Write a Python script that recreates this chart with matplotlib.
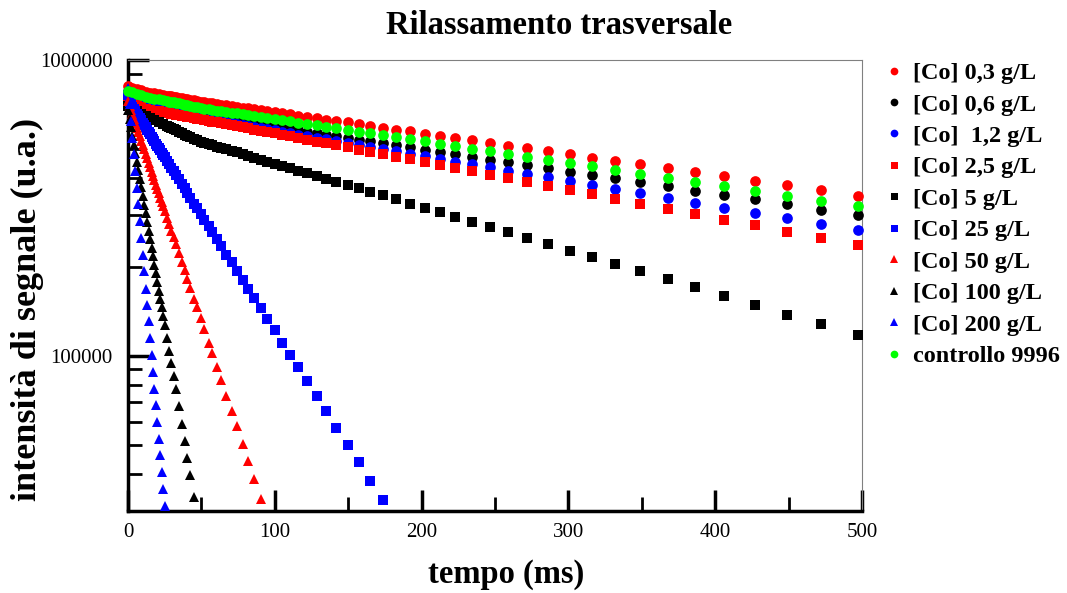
import numpy as np
import matplotlib
matplotlib.use("Agg")
import matplotlib.pyplot as plt
from matplotlib.ticker import FixedLocator, NullFormatter, LogLocator

plt.rcParams['font.family'] = ['Liberation Serif', 'DejaVu Serif']

# time points (ms)
t_fast = [0, 1, 2, 3, 4, 5, 6, 7, 8, 9, 10, 11, 12, 13, 14, 15, 16, 17, 18, 19, 20,
          21, 22, 23, 24, 25, 26.5, 28, 29.5, 31, 32.5, 34.5, 36.5, 38.5, 40.5, 42.5,
          45, 47, 49.5, 52, 55, 57.5, 60.5, 63.5, 67, 70.5, 74, 78, 82, 86, 90.5,
          95, 100, 105, 110.5, 116, 122, 128.5, 135, 142, 149.5, 157, 165, 173.5]
t_slow = [0, 3, 6, 9, 12, 15, 18, 21, 24,
          26.5, 28, 29.5, 31, 32.5, 34.5, 36.5, 38.5, 40.5, 42.5,
          45, 47, 49.5, 52, 55, 57.5, 60.5, 63.5, 67, 70.5,
          74, 78, 82, 86, 90.5, 95, 100, 105, 110.5, 116,
          122, 128.5, 135, 142, 149.5, 157, 165, 173.5, 182.5, 192,
          202, 212.5, 223, 234.5, 246.5, 259, 272, 286, 301, 316,
          332, 349, 367.5, 386, 406, 427, 449, 472, 497]

# signal intensity (thousands of a.u.)
co_03 = [817, 807, 798, 789, 780, 775, 771, 766, 761,
         758, 755, 753, 751, 749, 746, 743, 740, 737, 734,
         730, 727, 724, 721, 717, 714, 711, 707, 703, 699,
         695, 691, 686, 682, 677, 672, 666, 661, 655, 649,
         643, 636, 629, 622, 615, 607, 599, 591, 582, 574,
         564, 555, 545, 535, 525, 514, 503, 492, 480, 468,
         456, 444, 430, 418, 404, 390, 377, 363, 348]
co_06 = [759, 746, 735, 723, 711, 706, 701, 696, 690,
         686, 683, 681, 678, 676, 673, 669, 666, 663, 659,
         655, 652, 648, 645, 642, 639, 636, 633, 629, 625,
         621, 617, 613, 609, 604, 599, 594, 589, 583, 578,
         572, 565, 559, 552, 545, 538, 531, 523, 515, 507,
         498, 489, 480, 471, 461, 451, 441, 431, 420, 409,
         398, 386, 374, 362, 350, 338, 325, 312, 299]
co_12 = [785, 765, 746, 727, 708, 702, 696, 690, 685,
         680, 677, 674, 671, 668, 665, 661, 657, 653, 650,
         645, 642, 638, 634, 631, 628, 624, 620, 616, 612,
         608, 603, 598, 594, 588, 583, 578, 572, 566, 560,
         553, 546, 539, 532, 524, 517, 509, 500, 491, 482,
         473, 463, 454, 444, 434, 423, 412, 401, 390, 379,
         367, 355, 342, 330, 317, 305, 292, 279, 266]
co_25 = [724, 714, 704, 694, 684, 680, 675, 671, 666,
         663, 660, 658, 656, 654, 651, 648, 645, 643, 640,
         637, 634, 630, 627, 623, 619, 615, 611, 607, 602,
         598, 592, 587, 582, 576, 571, 565, 558, 552, 545,
         538, 530, 523, 515, 507, 498, 490, 481, 471, 462,
         452, 441, 431, 421, 410, 399, 387, 376, 364, 352,
         340, 327, 314, 302, 289, 276, 263, 250, 237]
co_5 = [700, 686, 672, 659, 646, 635, 625, 615, 606,
        598, 593, 588, 583, 579, 572, 566, 560, 554, 548,
        541, 535, 529, 524, 519, 515, 510, 504, 499, 493,
        487, 481, 474, 468, 461, 454, 446, 439, 431, 423,
        414, 405, 397, 388, 378, 368, 359, 349, 338, 327,
        317, 306, 295, 284, 273, 262, 250, 239, 227, 216,
        205, 193, 182, 171, 160, 149, 138, 128, 118]
controllo = [785, 777, 768, 760, 752, 746, 741, 736, 731,
             726, 724, 721, 719, 716, 713, 709, 706, 703, 699,
             695, 692, 688, 685, 682, 679, 675, 672, 668, 664,
             660, 655, 651, 646, 642, 637, 631, 626, 620, 614,
             608, 601, 595, 588, 580, 573, 565, 557, 548, 540,
             531, 521, 512, 502, 492, 482, 471, 460, 448, 437,
             425, 413, 400, 388, 375, 362, 348, 335, 321]
co_25g = [759, 721, 708, 696, 684, 671, 659, 648, 636, 625, 614, 603, 592, 582,
          571, 561, 551, 541, 532, 522, 513, 504, 495, 486, 477, 469,
          456, 444, 432, 421, 410, 395, 381, 368, 355, 342,
          327, 316, 302, 289, 274, 262, 248, 235, 220, 207,
          194, 181, 168, 157, 145, 133, 122, 111, 101, 91.5,
          82.1, 73.1, 65.0, 57.3, 50.1, 43.8, 37.9, 32.6]
co_50 = [726, 701, 678, 655, 633, 612, 591, 572, 552, 534, 516, 499, 482, 466,
         450, 435, 420, 406, 392, 379, 366, 354, 342, 331, 320, 309,
         293, 279, 265, 252, 239, 223, 208, 195, 182, 170,
         156, 146, 134, 123, 111, 102, 91.8, 82.8, 73.5, 65.2,
         57.8, 50.4, 44.0, 38.4, 32.9]
co_100 = [676, 632, 592, 553, 518, 484, 453, 424, 396, 371, 347, 324, 303, 284,
          265, 248, 232, 217, 203, 190, 178, 166, 156, 146, 136, 127,
          115, 104, 94.3, 85.3, 77.2, 67.5, 59.1, 51.7, 45.2, 39.6,
          33.5]
co_200 = [807, 709, 622, 547, 480, 421, 370, 325, 285, 250, 220, 193, 169, 149,
          131, 115, 101, 88.4, 77.6, 68.2, 59.8, 52.5, 46.1, 40.5, 35.6, 31.2]

series = [
    (t_slow, co_03, 'o', '#ff0000', '[Co] 0,3 g/L'),
    (t_slow, co_06, 'o', '#000000', '[Co] 0,6 g/L'),
    (t_slow, co_12, 'o', '#0000ff', '[Co]  1,2 g/L'),
    (t_slow, co_25, 's', '#ff0000', '[Co] 2,5 g/L'),
    (t_slow, co_5, 's', '#000000', '[Co] 5 g/L'),
    (t_fast, co_25g, 's', '#0000ff', '[Co] 25 g/L'),
    (t_fast, co_50, '^', '#ff0000', '[Co] 50 g/L'),
    (t_fast, co_100, '^', '#000000', '[Co] 100 g/L'),
    (t_fast, co_200, '^', '#0000ff', '[Co] 200 g/L'),
    (t_slow, controllo, 'o', '#00ff00', 'controllo 9996'),
]
msize = {'o': 7.7, 's': 7.0, '^': 7.4}

fig = plt.figure(figsize=(10.67, 5.93), dpi=100)
ax = fig.add_axes([0.12, 0.1388, 0.6879, 0.760])

for t, y, m, c, lab in series:
    y = np.array(y) * 1000
    ax.plot(t[:len(y)], y, linestyle='none', marker=m, color=c, markersize=msize[m],
            markeredgewidth=0, label=lab, clip_on=False, zorder=3)

ax.set_yscale('log')
ax.set_xlim(0, 500)
ax.set_ylim(30000, 1000000)

ax.yaxis.set_major_locator(FixedLocator([1e5, 1e6]))
ax.set_yticklabels(['100000', '1000000'])
ax.yaxis.set_minor_locator(LogLocator(base=10, subs=np.arange(2, 10)))
ax.yaxis.set_minor_formatter(NullFormatter())
ax.set_xticks([0, 100, 200, 300, 400, 500])
ax.set_xticks([50, 150, 250, 350, 450], minor=True)

ax.tick_params(which='both', direction='in', top=False, right=False, labelsize=15)
ax.tick_params(which='major', length=15, width=2.5)
ax.tick_params(which='minor', length=10, width=2)
ax.tick_params(axis='y', pad=11)
ax.tick_params(axis='x', pad=9)

for s in ['left', 'bottom']:
    ax.spines[s].set_linewidth(2.5)
for s in ['top', 'right']:
    ax.spines[s].set_linewidth(0.8)
    ax.spines[s].set_color('#808080')

fig.text(0.524, 0.957, 'Rilassamento trasversale', ha='center', va='center',
         fontsize=23.5, fontweight='bold')
fig.text(0.474, 0.032, 'tempo (ms)', ha='center', va='center',
         fontsize=23.5, fontweight='bold')
fig.text(0.026, 0.479, 'intensità di segnale (u.a.)', ha='center', va='center',
         rotation=90, fontsize=26, fontweight='bold')

ax.legend(loc='upper left', bbox_to_anchor=(884 / 1067, 1 - 62 / 593),
          bbox_transform=fig.transFigure, frameon=False,
          prop={'family': 'Liberation Serif', 'weight': 'bold', 'size': 17.5},
          handlelength=0.8, handletextpad=0.4, labelspacing=0.39,
          markerscale=0.72, borderpad=0, borderaxespad=0)

fig.savefig('out.png', dpi=100, facecolor='w')
